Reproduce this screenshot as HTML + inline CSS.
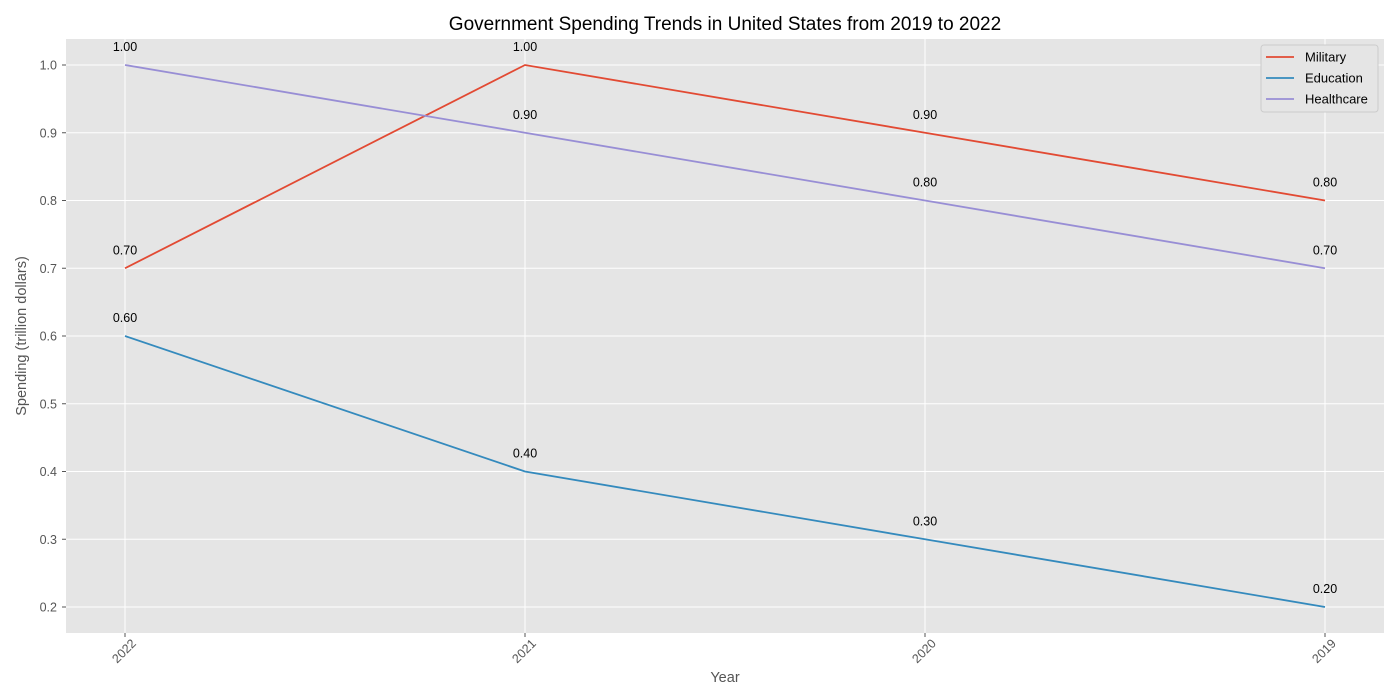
<!DOCTYPE html>
<html><head><meta charset="utf-8"><style>
html,body{margin:0;padding:0;background:#fff;}
svg{display:block;font-family:"Liberation Sans",Arial,sans-serif;}
</style></head><body>
<svg id="chart" width="1400" height="700">
<text x="725" y="30" text-anchor="middle" font-size="19" fill="#000">Government Spending Trends in United States from 2019 to 2022</text>
<rect x="66" y="39" width="1318" height="594" fill="#e5e5e5"/>
<g id="grid"></g>
<g id="series"></g>
<g id="labels"></g>
<text x="725" y="682" text-anchor="middle" font-size="14.5" fill="#555">Year</text>
<text transform="translate(26,336) rotate(-90)" text-anchor="middle" font-size="14.5" fill="#555">Spending (trillion dollars)</text>
<g id="legend"></g>
</svg>
<script>
const categories = ["2022","2021","2020","2019"];
const seriesNames = ["Military","Education","Healthcare"];
const military = [0.7,1.0,0.9,0.8];
const education = [0.6,0.4,0.3,0.2];
const healthcare = [1.0,0.9,0.8,0.7];
const yTicks = [0.2,0.3,0.4,0.5,0.6,0.7,0.8,0.9,1.0];
const colors = ["#e24a33","#348abd","#988ed5"];
const NS="http://www.w3.org/2000/svg";
function xS(i){return 125+i*400;}
function yS(v){return 607-(v-0.2)*677.5;}
function mk(tag,attrs,parent,text){const e=document.createElementNS(NS,tag);for(const k in attrs)e.setAttribute(k,attrs[k]);if(text!==undefined)e.textContent=text;parent.appendChild(e);return e;}
const grid=document.getElementById('grid');
yTicks.forEach(t=>{
 const y=yS(t);
 const l=mk('line',{x1:66,x2:1384,y1:y,y2:y,stroke:'#fff','stroke-width':1},grid);
 
 
 mk('line',{x1:62,x2:66,y1:y,y2:y,stroke:'#555'},grid);
 const tx=mk('text',{x:57,y:y+4.5,'text-anchor':'end','font-size':12.5,fill:'#555'},grid,t.toFixed(1));
 
 
});
categories.forEach((c,i)=>{
 const x=xS(i);
 const l=mk('line',{x1:x,x2:x,y1:39,y2:633,stroke:'#fff','stroke-width':1},grid);
 
 
 mk('line',{x1:x,x2:x,y1:633,y2:637,stroke:'#555'},grid);
 const tx=mk('text',{transform:`translate(${x+2},${654}) rotate(-45)`,'text-anchor':'middle','font-size':12.5,fill:'#555'},grid,c);
 
 
});
const sg=document.getElementById('series'), lg=document.getElementById('labels');
[military,education,healthcare].forEach((arr,s)=>{
 const pts=arr.map((v,i)=>xS(i)+','+yS(v)).join(' ');
 const p=mk('polyline',{points:pts,fill:'none',stroke:colors[s],'stroke-width':1.8},sg);
 
 
 arr.forEach((v,i)=>{
  const t=mk('text',{x:xS(i),y:yS(v)-14,'text-anchor':'middle','font-size':12.5,fill:'#000'},lg,v.toFixed(2));
  
  
 });
});
const leg=document.getElementById('legend');
mk('rect',{x:1261,y:45,width:117,height:67,rx:3,fill:'#e5e5e5',stroke:'#ccc','stroke-width':1},leg);
seriesNames.forEach((n,s)=>{
 const y=57+s*21;
 mk('line',{x1:1266,x2:1294,y1:y,y2:y,stroke:colors[s],'stroke-width':1.8},leg);
 const t=mk('text',{x:1305,y:y+4.5,'font-size':13,fill:'#000'},leg,n);
 
 
});
</script>
</body></html>
